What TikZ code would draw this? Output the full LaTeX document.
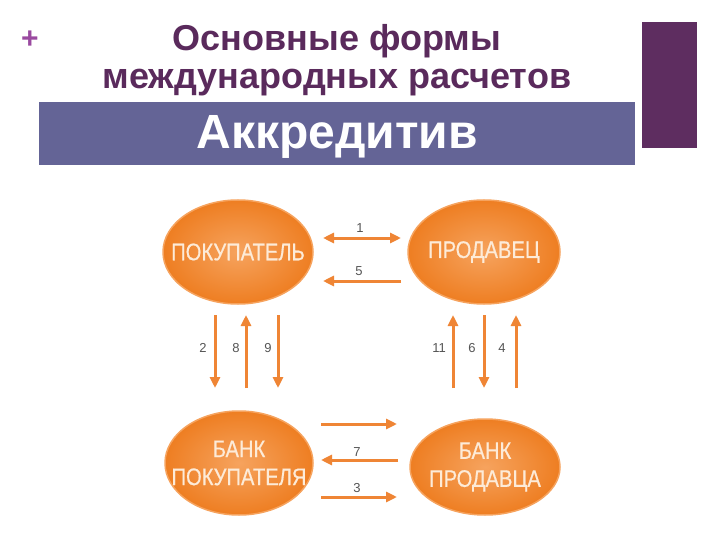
\documentclass[tikz,border=0pt]{standalone}
\usepackage{fontspec}
\setmainfont{Liberation Sans}
\newfontfamily\narrowfont[FakeStretch=0.84,FakeBold=0.6]{Liberation Sans}
\usetikzlibrary{arrows.meta,shapes.geometric}
\definecolor{titlecol}{HTML}{5A2A5C}
\definecolor{barcol}{HTML}{646496}
\definecolor{sidecol}{HTML}{5E2D60}
\definecolor{pluscol}{HTML}{9A4AA0}
\definecolor{orangeA}{HTML}{F6A35E}
\definecolor{orangeB}{HTML}{EE7E22}
\definecolor{arrcol}{HTML}{EF8535}
\definecolor{txtcol}{HTML}{FDEBD8}
\definecolor{numcol}{HTML}{555555}
\newcommand{\zb}[1]{\makebox[0pt][c]{#1}}
\tikzset{
  party/.style={ellipse, inner sep=0pt, inner color=orangeA, outer color=orangeB,
     draw=orangeA, line width=1.5pt, text=txtcol, font=\narrowfont\fontsize{24}{27}\selectfont, align=center},
  flow/.style={draw=arrcol, line width=3pt, -{Triangle[length=11pt,width=10pt]}},
  flowboth/.style={draw=arrcol, line width=3pt, {Triangle[length=11pt,width=10pt]}-{Triangle[length=11pt,width=10pt]}},
  num/.style={text=numcol, font=\fontsize{13}{13}\selectfont, inner sep=1pt}
}
\begin{document}
\begin{tikzpicture}[x=1pt,y=-1pt]
\useasboundingbox (0,0) rectangle (720,540);
\fill[white] (0,0) rectangle (720,540);
% header
\node[text=pluscol, font=\fontsize{30}{30}\selectfont\bfseries] (plus) at (30,40) {+};
\node[text=titlecol, font=\fontsize{36}{38}\selectfont\bfseries, align=center] (title) at (337,60) {Основные формы\\международных расчетов};
\fill[barcol] (39,102) rectangle (635,165);
\node[text=white, font=\fontsize{48}{48}\selectfont\bfseries] (akk) at (337,137) {Аккредитив};
\fill[sidecol] (642,22) rectangle (697,148);
% parties
\node[party, minimum width=150pt, minimum height=104pt] (buyer) at (238,252) {\zb{ПОКУПАТЕЛЬ}};
\node[party, minimum width=152pt, minimum height=104pt] (seller) at (484,252) {\zb{ПРОДАВЕЦ}};
\node[party, minimum width=148pt, minimum height=104pt] (bbank) at (239,463) {\zb{БАНК}\\[1pt]\zb{ПОКУПАТЕЛЯ}};
\node[party, minimum width=150pt, minimum height=96pt] (sbank) at (485,467) {\zb{БАНК}\\[1pt]\zb{ПРОДАВЦА}};
% coordinates for arrow ends
\coordinate (a1l) at (323,238); \coordinate (a1r) at (401,238);
\coordinate (a5l) at (323,281); \coordinate (a5r) at (401,281);
\coordinate (a2t) at (215,315); \coordinate (a2b) at (215,388);
\coordinate (a8t) at (246,315); \coordinate (a8b) at (246,388);
\coordinate (a9t) at (278,315); \coordinate (a9b) at (278,388);
\coordinate (a11t) at (453,315); \coordinate (a11b) at (453,388);
\coordinate (a6t) at (484,315); \coordinate (a6b) at (484,388);
\coordinate (a4t) at (516,315); \coordinate (a4b) at (516,388);
\coordinate (bAl) at (321,424); \coordinate (bAr) at (397,424);
\coordinate (a7l) at (321,460); \coordinate (a7r) at (398,460);
\coordinate (a3l) at (321,497); \coordinate (a3r) at (397,497);
% arrows
\draw[flowboth] (a1l) -- (a1r);
\draw[flow] (a5r) -- (a5l);
\draw[flow] (a2t) -- (a2b);
\draw[flow] (a8b) -- (a8t);
\draw[flow] (a9t) -- (a9b);
\draw[flow] (a11b) -- (a11t);
\draw[flow] (a6t) -- (a6b);
\draw[flow] (a4b) -- (a4t);
\draw[flow] (bAl) -- (bAr);
\draw[flow] (a7r) -- (a7l);
\draw[flow] (a3l) -- (a3r);
% numbers
\node[num] (n1) at (360,228) {1};
\node[num] (n5) at (359,271) {5};
\node[num] (n2) at (203,348) {2};
\node[num] (n8) at (236,348) {8};
\node[num] (n9) at (268,348) {9};
\node[num] (n11) at (439,348) {11};
\node[num] (n6) at (472,348) {6};
\node[num] (n4) at (502,348) {4};
\node[num] (n7) at (357,452) {7};
\node[num] (n3) at (357,488) {3};
\end{tikzpicture}
\end{document}
